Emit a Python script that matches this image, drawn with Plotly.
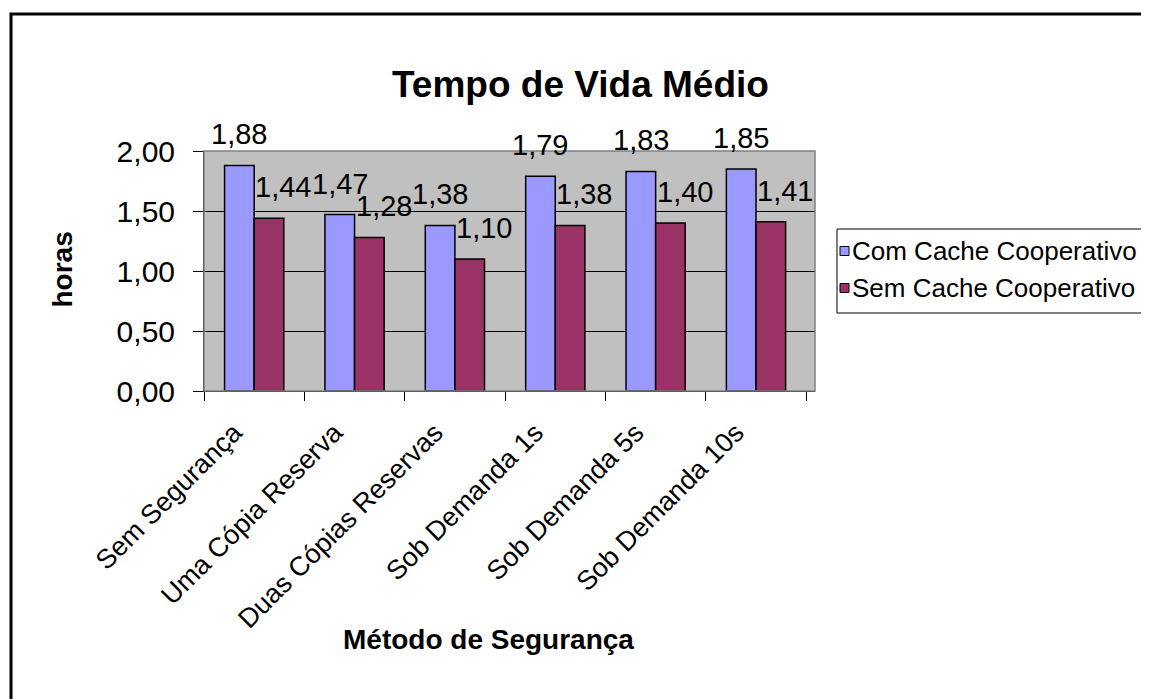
import plotly.graph_objects as go

# data
metodos = ["Sem Segurança", "Uma Cópia Reserva", "Duas Cópias Reservas",
           "Sob Demanda 1s", "Sob Demanda 5s", "Sob Demanda 10s"]
com_cache = [1.88, 1.47, 1.38, 1.79, 1.83, 1.85]
sem_cache = [1.44, 1.28, 1.10, 1.38, 1.40, 1.41]
series_names = ["Com Cache Cooperativo", "Sem Cache Cooperativo"]
y_ticks = [0, 0.5, 1.0, 1.5, 2.0]

COR_AZUL = "#9999FF"
COR_VINHO = "#993366"
FONTE = "Liberation Sans, Arial, sans-serif"

W, H = 1149, 699
OFF = 8  # the page body margin shifts the figure by 8px
# plot area, in screenshot pixels
L, R, T, B = 204, 815, 151, 391


def px_x(x):
    return (x - L) / (R - L)


def px_y(y):
    return (B - y) / (B - T)


def fmt(v):
    return f"{v:.2f}".replace(".", ",")


fig = go.Figure()
for nome, vals, cor in [(series_names[0], com_cache, COR_AZUL),
                        (series_names[1], sem_cache, COR_VINHO)]:
    fig.add_trace(go.Bar(
        x=metodos, y=vals, name=nome,
        marker=dict(color=cor, line=dict(color="black", width=1.5)),
        showlegend=False,
    ))

# data labels (Excel style, floating above the bars)
for cat, v in zip(metodos, com_cache):
    fig.add_annotation(x=cat, y=v, text=fmt(v), showarrow=False,
                       xshift=-15, yshift=13, yanchor="bottom",
                       font=dict(family=FONTE, size=29, color="black"))
for cat, v in zip(metodos, sem_cache):
    fig.add_annotation(x=cat, y=v, text=fmt(v), showarrow=False,
                       xshift=29, yshift=13, yanchor="bottom",
                       font=dict(family=FONTE, size=29, color="black"))

# titles
fig.add_annotation(x=px_x(580), y=px_y(62), xref="paper", yref="paper",
                   text="<b>Tempo de Vida Médio</b>", showarrow=False,
                   font=dict(family=FONTE, size=37, color="black"))
fig.add_annotation(x=px_x(488), y=px_y(657), xref="paper", yref="paper",
                   text="<b>Método de Segurança</b>", showarrow=False,
                   font=dict(family=FONTE, size=28, color="black"))
fig.add_annotation(x=px_x(44), y=px_y(270), xref="paper", yref="paper",
                   text="<b>horas</b>", showarrow=False, textangle=-90,
                   font=dict(family=FONTE, size=28, color="black"))

# hand-drawn legend box (cut by the right edge as in the original)
fig.add_shape(type="rect", xref="paper", yref="paper",
              x0=px_x(837), x1=px_x(1175), y0=px_y(229), y1=px_y(313),
              line=dict(color="black", width=1), fillcolor="white")
for i, (nome, cor) in enumerate(zip(series_names, [COR_AZUL, COR_VINHO])):
    yc = 251 + i * 37
    fig.add_shape(type="rect", xref="paper", yref="paper",
                  x0=px_x(840), x1=px_x(849), y0=px_y(yc - 4.5), y1=px_y(yc + 4.5),
                  line=dict(color="black", width=1), fillcolor=cor)
    fig.add_annotation(x=px_x(850), y=px_y(yc), xref="paper", yref="paper",
                       text=nome, showarrow=False, xanchor="left",
                       font=dict(family=FONTE, size=26, color="black"))

# plot-area frame and outer chart border
fig.add_shape(type="rect", xref="paper", yref="paper", x0=0, x1=1, y0=0, y1=1,
              line=dict(color="#808080", width=1.5), layer="above")
fig.add_shape(type="rect", xref="paper", yref="paper",
              x0=px_x(11), x1=px_x(1185), y0=px_y(14), y1=px_y(740),
              line=dict(color="black", width=3))

fig.update_layout(
    width=W, height=H,
    margin=dict(l=L - OFF, r=W - (R - OFF), t=T - OFF, b=H - (B - OFF), pad=0),
    paper_bgcolor="white", plot_bgcolor="#C0C0C0",
    barmode="group", bargap=0.41, bargroupgap=0,
    separators=",.",
    font=dict(family=FONTE, color="black"),
)
fig.update_xaxes(
    type="category", tickangle=-45, tickson="boundaries",
    ticks="outside", ticklen=9, tickcolor="black", tickwidth=1,
    ticklabelshift=-20, ticklabelstandoff=14,
    showline=True, linecolor="black", linewidth=1, showgrid=False,
    tickfont=dict(family=FONTE, size=27, color="black"),
)
fig.update_yaxes(
    range=[0, 2], tickvals=y_ticks, tickformat=".2f",
    ticks="outside", ticklen=10, tickcolor="black", tickwidth=1,
    ticklabelstandoff=12,
    showline=True, linecolor="black", linewidth=1,
    showgrid=True, gridcolor="black", gridwidth=1, zeroline=False,
    tickfont=dict(family=FONTE, size=30, color="black"),
)

fig.write_html("out.html")
